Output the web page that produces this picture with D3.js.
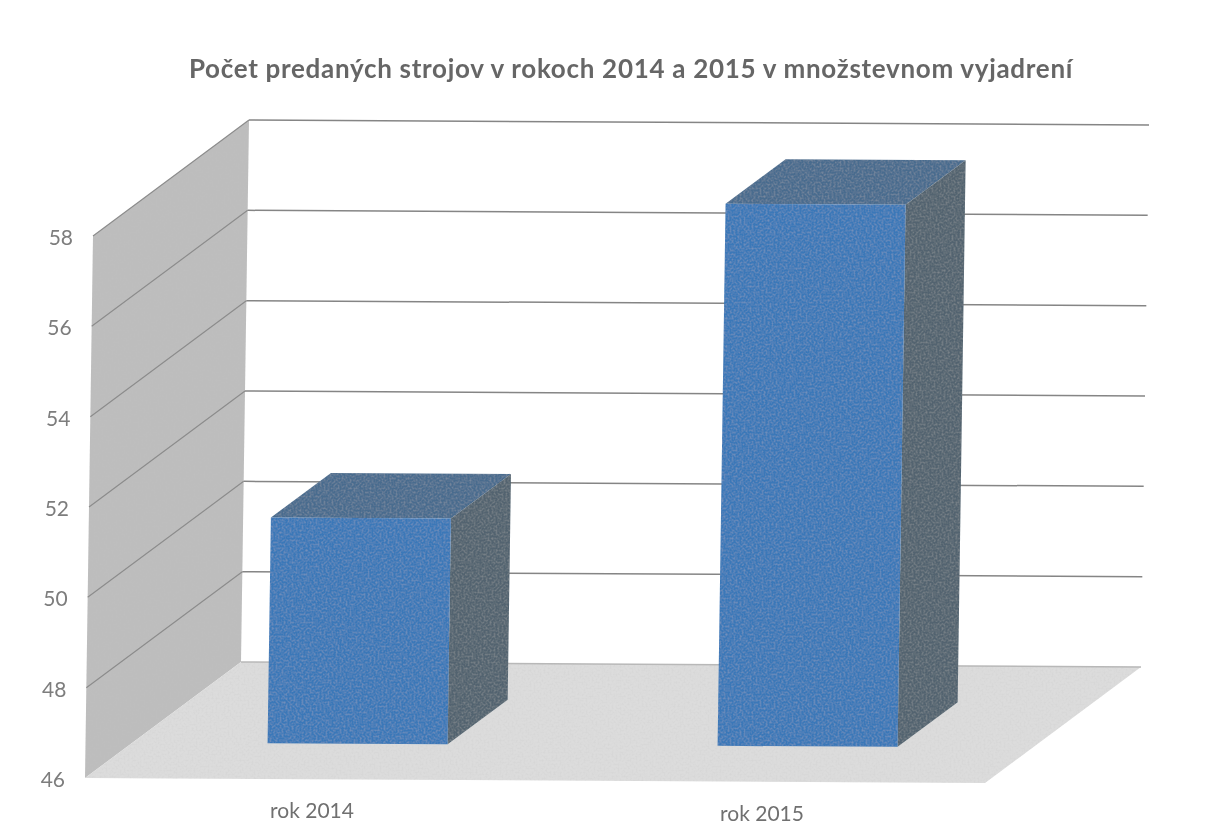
<!DOCTYPE html>
<html>
<head>
<meta charset="utf-8">
<script src="https://cdn.jsdelivr.net/npm/d3@7"></script>
<style>
  html, body { margin: 0; padding: 0; background: #fff; }
  svg { display: block; }
  text { font-family: Lato, "Open Sans", sans-serif; }
</style>
</head>
<body>
<div id="chart"></div>
<script>
var chartTitle = "Počet predaných strojov v rokoch 2014 a 2015 v množstevnom vyjadrení";
var categories = ["rok 2014", "rok 2015"];
var values = [51, 58];
var tickValues = [46, 48, 50, 52, 54, 56, 58];

var w = 1212, h = 828;

// the three axes of the 3D box, each gives a 0..1 position
var xScale = d3.scaleBand().domain(categories).range([0, 1]).paddingInner(0.6).paddingOuter(0.3);
var vScale = d3.scaleLinear().domain([46, 58]).range([0, 1]);
var depthScale = d3.scaleLinear().domain([0, 1]).range([0.305, 0.69]);

function project(fx, fv, fd) {
  return [
    85 + fx * 900 + fv * 8 + fd * 156,
    778 + fx * 5 - fv * 542 - fd * 116
  ];
}

function poly(points) {
  return points.map((p) => p.join(",")).join(" ");
}

var svg = d3.select("#chart").append("svg").attr("width", w).attr("height", h);

// scan grain
var defs = svg.append("defs");
var grain = defs.append("filter").attr("id", "grain")
  .attr("x", 0).attr("y", 0).attr("width", "100%").attr("height", "100%");
grain.append("feGaussianBlur").attr("in", "SourceGraphic").attr("stdDeviation", 0.6).attr("result", "soft");
grain.append("feTurbulence").attr("type", "fractalNoise").attr("baseFrequency", 0.5)
  .attr("numOctaves", 2).attr("seed", 4).attr("result", "noise");
grain.append("feColorMatrix").attr("in", "noise").attr("type", "matrix")
  .attr("values", "0 0 0 0 0.55  0 0 0 0 0.55  0 0 0 0 0.55  0.55 0 0 0 -0.22").attr("result", "speck");
grain.append("feGaussianBlur").attr("in", "speck").attr("stdDeviation", 0.5).attr("result", "speckSoft");
grain.append("feComposite").attr("in", "speckSoft").attr("in2", "soft").attr("operator", "in").attr("result", "clipped");
var grainMerge = grain.append("feMerge");
grainMerge.append("feMergeNode").attr("in", "soft");
grainMerge.append("feMergeNode").attr("in", "clipped");

var soft = defs.append("filter").attr("id", "soft");
soft.append("feGaussianBlur").attr("stdDeviation", 0.45);

var textSoft = defs.append("filter").attr("id", "textSoft");
textSoft.append("feGaussianBlur").attr("stdDeviation", 0.4);

// walls and floor
var box = svg.append("g").attr("filter", "url(#grain)");

box.append("polygon")
  .attr("points", poly([project(0, 0, 0), project(0, 1, 0), project(0, 1, 1), project(0, 0, 1)]))
  .attr("fill", "#bdbdbd");

box.append("polygon")
  .attr("points", poly([project(0, 0, 0), project(1, 0, 0), project(1, 0, 1), project(0, 0, 1)]))
  .attr("fill", "#dcdcdc");

// gridlines, side wall then back wall
var grid = svg.append("g").attr("filter", "url(#soft)").attr("fill", "none");

grid.selectAll("line.side")
  .data(tickValues.slice(1))
  .enter()
  .append("line")
  .attr("class", "side")
  .attr("x1", (d) => project(0, vScale(d), 0)[0])
  .attr("y1", (d) => project(0, vScale(d), 0)[1])
  .attr("x2", (d) => project(0, vScale(d), 1)[0])
  .attr("y2", (d) => project(0, vScale(d), 1)[1])
  .attr("stroke", "#8c8c8c")
  .attr("stroke-width", 1.2);

grid.selectAll("line.back")
  .data(tickValues)
  .enter()
  .append("line")
  .attr("class", "back")
  .attr("x1", (d) => project(0, vScale(d), 1)[0])
  .attr("y1", (d) => project(0, vScale(d), 1)[1])
  .attr("x2", (d) => project(1, vScale(d), 1)[0])
  .attr("y2", (d) => project(1, vScale(d), 1)[1])
  .attr("stroke", (d) => d === 46 ? "#b8b8b8" : "#858585")
  .attr("stroke-width", 1.5);

// bars: top, side, front
var bars = svg.append("g").attr("filter", "url(#grain)")
  .selectAll("g")
  .data(values)
  .enter()
  .append("g");

function corner(i, d, right, v, back) {
  var x0 = xScale(categories[i]);
  return project(right ? x0 + xScale.bandwidth() : x0, vScale(v), depthScale(back));
}

bars.append("polygon")
  .attr("points", (d, i) => poly([corner(i, d, 0, d, 0), corner(i, d, 1, d, 0), corner(i, d, 1, d, 1), corner(i, d, 0, d, 1)]))
  .attr("fill", "#4a6c8e");

bars.append("polygon")
  .attr("points", (d, i) => poly([corner(i, d, 1, 46, 0), corner(i, d, 1, d, 0), corner(i, d, 1, d, 1), corner(i, d, 1, 46, 1)]))
  .attr("fill", "#526470");

bars.append("polygon")
  .attr("points", (d, i) => poly([corner(i, d, 0, 46, 0), corner(i, d, 1, 46, 0), corner(i, d, 1, d, 0), corner(i, d, 0, d, 0)]))
  .attr("fill", "#3a78b8");

// text
var labels = svg.append("g").attr("filter", "url(#textSoft)");

labels.append("text")
  .text(chartTitle)
  .attr("x", 631)
  .attr("y", 77.5)
  .attr("text-anchor", "middle")
  .attr("font-size", 26)
  .attr("letter-spacing", 0.7)
  .attr("font-weight", "bold")
  .attr("fill", "#666666");

labels.selectAll("text.tick")
  .data(tickValues)
  .enter()
  .append("text")
  .attr("class", "tick")
  .text((d) => d)
  .attr("x", (d) => project(0, vScale(d), 0)[0] - 20)
  .attr("y", (d) => project(0, vScale(d), 0)[1] + 9)
  .attr("text-anchor", "end")
  .attr("font-size", 21)
  .attr("fill", "#7d7d7d");

labels.selectAll("text.cat")
  .data(categories)
  .enter()
  .append("text")
  .attr("class", "cat")
  .text((d) => d)
  .attr("x", (d) => project(xScale(d) + xScale.bandwidth() / 2, 0, 0)[0] + 2)
  .attr("y", (d) => project(xScale(d) + xScale.bandwidth() / 2, 0, 0)[1] + 39)
  .attr("text-anchor", "middle")
  .attr("font-size", 21)
  .attr("fill", "#707070");
</script>
</body>
</html>
